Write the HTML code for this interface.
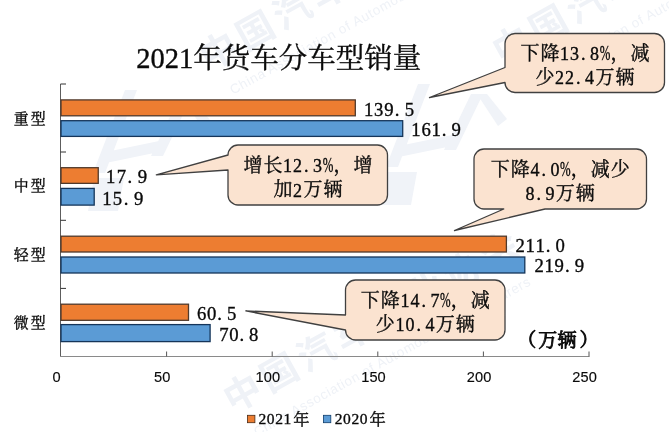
<!DOCTYPE html>
<html lang="zh-CN"><head><meta charset="utf-8"><title>2021年货车分车型销量</title>
<style>
html,body{margin:0;padding:0;background:#fff;}
body{width:669px;height:432px;overflow:hidden;}
svg{display:block;}
.s{font-family:"Liberation Serif","Noto Serif CJK SC",serif;fill:#0a0a0a;stroke:#0a0a0a;stroke-width:0.35px;}
.ax{font-family:"Liberation Sans","Noto Sans CJK SC",sans-serif;font-size:14.6px;fill:#0a0a0a;stroke:#0a0a0a;stroke-width:0.15px;letter-spacing:0.1px;}
.wm{font-family:"Liberation Sans","Noto Sans CJK SC",sans-serif;fill:#eff2f7;font-weight:bold;}
.wmp{fill:#f0f3f8;}
</style></head><body>
<svg width="669" height="432" viewBox="0 0 669 432">
<rect width="669" height="432" fill="#ffffff"/>
<g transform="translate(219 51)"><path class="wmp" d="M-94 39h12l-32 83h-12zM-118 102l58-12v11l-58 12zM-41 49h12l-27 56h-12zM-35 49h10l20 25l-9 7zM-125 127h30l-6 33h-30z"/><g transform="rotate(-29)"><text class="wm" font-size="37" x="-19" y="13" letter-spacing="5">中国汽车工业协会</text><text class="wm" font-size="13.5" x="-9" y="45" style="font-weight:normal" letter-spacing="0.7">China Association of Automobile Manufacturers</text></g></g><g transform="translate(243 393)"><path class="wmp" d="M-94 39h12l-32 83h-12zM-118 102l58-12v11l-58 12zM-41 49h12l-27 56h-12zM-35 49h10l20 25l-9 7zM-125 127h30l-6 33h-30z"/><g transform="rotate(-29)"><text class="wm" font-size="37" x="-19" y="13" letter-spacing="5">中国汽车工业协会</text><text class="wm" font-size="13.5" x="-9" y="45" style="font-weight:normal" letter-spacing="0.7">China Association of Automobile Manufacturers</text></g></g><g transform="translate(512 45)"><path class="wmp" d="M-94 39h12l-32 83h-12zM-118 102l58-12v11l-58 12zM-41 49h12l-27 56h-12zM-35 49h10l20 25l-9 7zM-125 127h30l-6 33h-30z"/><g transform="rotate(-29)"><text class="wm" font-size="37" x="-19" y="13" letter-spacing="5">中国汽车工业协会</text><text class="wm" font-size="13.5" x="-9" y="45" style="font-weight:normal" letter-spacing="0.7">China Association of Automobile Manufacturers</text></g></g>
<text class="s" x="136.3" y="68.3" font-size="28.5">2021年货车分车型销量</text>
<path d="M60.5 84V356.5" stroke="#333" stroke-width="0.8" fill="none"/>
<path d="M60 356.5H589.5" stroke="#8a8a8a" stroke-width="1.1" fill="none"/>
<path d="M60.5 84h5.5M60.5 152h5.5M60.5 220.3h5.5M60.5 288.4h5.5" stroke="#333" stroke-width="1" fill="none"/>
<path d="M166.6 356.5v-5M272.2 356.5v-5M377.8 356.5v-5M483.4 356.5v-5M589.0 356.5v-5" stroke="#555" stroke-width="1" fill="none"/>
<rect x="61.0" y="99.90" width="294.30" height="15.90" fill="#ED7D31" stroke="#503a2c" stroke-width="1.3"/>
<text class="s" font-size="18.7" y="115.60" x="363.90 374.12 384.35 394.87 404.80">139.5</text>
<rect x="61.0" y="120.70" width="341.70" height="15.70" fill="#5B9BD5" stroke="#15355a" stroke-width="1.3"/>
<text class="s" font-size="18.7" y="135.80" x="411.30 421.38 431.45 441.83 451.60">161.9</text>
<text class="s" font-size="14.9" x="13.8 30.7" y="123.60">重型</text>
<rect x="61.0" y="167.70" width="37.25" height="15.65" fill="#ED7D31" stroke="#503a2c" stroke-width="1.3"/>
<text class="s" font-size="18.7" y="183.35" x="106.05 116.65 127.55 137.85">17.9</text>
<rect x="61.0" y="188.40" width="33.20" height="16.70" fill="#5B9BD5" stroke="#15355a" stroke-width="1.3"/>
<text class="s" font-size="18.7" y="204.50" x="102.20 112.80 123.70 134.00">15.9</text>
<text class="s" font-size="14.9" x="13.8 30.7" y="191.30">中型</text>
<rect x="61.0" y="236.20" width="445.40" height="15.80" fill="#ED7D31" stroke="#503a2c" stroke-width="1.3"/>
<text class="s" font-size="18.7" y="252.00" x="515.40 525.40 535.40 545.70 555.40">211.0</text>
<rect x="61.0" y="257.00" width="463.80" height="16.00" fill="#5B9BD5" stroke="#15355a" stroke-width="1.3"/>
<text class="s" font-size="18.7" y="272.40" x="534.40 544.51 554.62 565.04 574.85">219.9</text>
<text class="s" font-size="14.9" x="13.8 30.7" y="260.00">轻型</text>
<rect x="61.0" y="304.20" width="127.50" height="16.10" fill="#ED7D31" stroke="#503a2c" stroke-width="1.3"/>
<text class="s" font-size="18.7" y="319.70" x="197.10 207.05 217.30 226.95">60.5</text>
<rect x="61.0" y="324.60" width="149.10" height="17.00" fill="#5B9BD5" stroke="#15355a" stroke-width="1.3"/>
<text class="s" font-size="18.7" y="340.80" x="219.30 229.20 239.40 249.00">70.8</text>
<text class="s" font-size="14.9" x="13.8 30.7" y="328.00">微型</text>
<text class="ax" text-anchor="middle" x="56.7" y="382">0</text>
<text class="ax" text-anchor="middle" x="162.3" y="382">50</text>
<text class="ax" text-anchor="middle" x="267.9" y="382">100</text>
<text class="ax" text-anchor="middle" x="373.5" y="382">150</text>
<text class="ax" text-anchor="middle" x="479.1" y="382">200</text>
<text class="ax" text-anchor="middle" x="584.7" y="382">250</text>
<text class="s" font-size="19" style="stroke-width:0.85px" x="517.3 538.2 557.6 579.6" y="346.6">（万辆）</text>
<rect x="247.5" y="415.3" width="7.4" height="7.4" fill="#ED7D31" stroke="#4a2a14" stroke-width="0.8"/>
<text class="s"><tspan font-size="15.5" y="424.20" x="258.40 266.80 275.20 283.60">2021</tspan><tspan font-size="16.3" y="424.50" x="293.30">年</tspan></text>
<rect x="323.4" y="415.3" width="7.4" height="7.4" fill="#5B9BD5" stroke="#0f3d6b" stroke-width="0.8"/>
<text class="s"><tspan font-size="15.5" y="424.20" x="334.65 343.05 351.45 359.85">2020</tspan><tspan font-size="16.3" y="424.50" x="369.55">年</tspan></text>
<path d="M515 33.5H654.5A10 10 0 0 1 664.5 43.5V82.5A10 10 0 0 1 654.5 92.5H515A10 10 0 0 1 505 82.5V82.5L429.5 97.5L505 67.5V43.5A10 10 0 0 1 515 33.5Z" fill="#FBE3D0" stroke="#404040" stroke-width="1.3" stroke-linejoin="round"/><text class="s"><tspan font-size="19" y="60.00" x="520.50 540.50">下降</tspan><tspan font-size="18" y="59.50" x="560.10 570.10 581.10 590.10">13.8</tspan><tspan font-size="20.5" y="59.50" x="599.70" textLength="10.6" lengthAdjust="spacingAndGlyphs">%</tspan><tspan font-size="19" y="60.00" x="610.50 630.50">，减</tspan></text><text class="s"><tspan font-size="19" y="83.50" x="535.50">少</tspan><tspan font-size="18" y="83.50" x="555.10 565.10 576.10 585.10">22.4</tspan><tspan font-size="19" y="83.50" x="595.50 615.50">万辆</tspan></text>
<path d="M238 145H377.5A10 10 0 0 1 387.5 155V195A10 10 0 0 1 377.5 205H238A10 10 0 0 1 228 195V170L156.3 174.8L228 155V155A10 10 0 0 1 238 145Z" fill="#FBE3D0" stroke="#404040" stroke-width="1.3" stroke-linejoin="round"/><text class="s"><tspan font-size="19" y="171.50" x="243.50 263.50">增长</tspan><tspan font-size="18" y="171.50" x="283.10 293.10 304.10 313.10">12.3</tspan><tspan font-size="20.5" y="171.50" x="322.70" textLength="10.6" lengthAdjust="spacingAndGlyphs">%</tspan><tspan font-size="19" y="171.50" x="333.50 353.50">，增</tspan></text><text class="s"><tspan font-size="19" y="196.10" x="273.50">加</tspan><tspan font-size="18" y="196.60" x="293.10">2</tspan><tspan font-size="19" y="196.10" x="303.50 323.50">万辆</tspan></text>
<path d="M484 149H636.5A10 10 0 0 1 646.5 159V199A10 10 0 0 1 636.5 209H545L454.5 230.5L503.8 209H484A10 10 0 0 1 474 199V159A10 10 0 0 1 484 149Z" fill="#FBE3D0" stroke="#404040" stroke-width="1.3" stroke-linejoin="round"/><text class="s"><tspan font-size="19" y="175.50" x="490.80 510.80">下降</tspan><tspan font-size="18" y="175.50" x="530.40 541.40 550.40">4.0</tspan><tspan font-size="20.5" y="175.50" x="560.00" textLength="10.6" lengthAdjust="spacingAndGlyphs">%</tspan><tspan font-size="19" y="175.50" x="570.80 590.80 610.80">，减少</tspan></text><text class="s"><tspan font-size="18" y="200.10" x="525.40 536.40 545.40">8.9</tspan><tspan font-size="19" y="199.50" x="555.80 575.80">万辆</tspan></text>
<path d="M355.5 280H495A10 10 0 0 1 505 290V330A10 10 0 0 1 495 340H355.5A10 10 0 0 1 345.5 330V330L245.8 310.9L345.5 315V290A10 10 0 0 1 355.5 280Z" fill="#FBE3D0" stroke="#404040" stroke-width="1.3" stroke-linejoin="round"/><text class="s"><tspan font-size="19" y="307.00" x="360.80 380.80">下降</tspan><tspan font-size="18" y="307.00" x="400.40 410.40 421.40 430.40">14.7</tspan><tspan font-size="20.5" y="307.00" x="440.00" textLength="10.6" lengthAdjust="spacingAndGlyphs">%</tspan><tspan font-size="19" y="307.00" x="450.80 470.80">，减</tspan></text><text class="s"><tspan font-size="19" y="331.00" x="375.80">少</tspan><tspan font-size="18" y="331.00" x="395.40 405.40 416.40 425.40">10.4</tspan><tspan font-size="19" y="331.00" x="435.80 455.80">万辆</tspan></text>
</svg></body></html>
